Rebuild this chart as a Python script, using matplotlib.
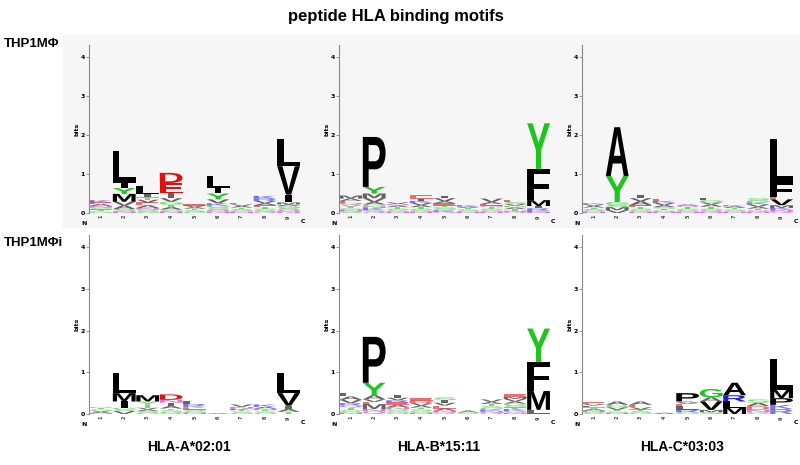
import matplotlib
matplotlib.use('Agg')
import matplotlib.pyplot as plt
from matplotlib.textpath import TextPath
from matplotlib.patches import PathPatch, Rectangle
from matplotlib.font_manager import FontProperties
from matplotlib.transforms import Affine2D

# sequence logos: letters listed bottom -> top for each position, heights in bits
alleles = ['HLA-A*02:01', 'HLA-B*15:11', 'HLA-C*03:03']
rows = ['THP1MΦ', 'THP1MΦi']
positions = [1, 2, 3, 4, 5, 6, 7, 8, 9]

a_top_letters = ['GTSNAEK', 'NSAVMYIL', 'GSNAEVTIL', 'NSATGVIED', 'GSTAVE',
                 'NQSGKVYIL', 'NGSTAVE', 'QGSTEAVRK', 'NQSGAMIVL']
a_top_heights = [[0.04, 0.05, 0.05, 0.04, 0.05, 0.04, 0.06],
                 [0.04, 0.06, 0.09, 0.1, 0.2, 0.15, 0.14, 0.82],
                 [0.04, 0.05, 0.04, 0.07, 0.07, 0.07, 0.06, 0.08, 0.22],
                 [0.04, 0.05, 0.06, 0.06, 0.08, 0.09, 0.12, 0.27, 0.26],
                 [0.03, 0.04, 0.04, 0.04, 0.04, 0.03],
                 [0.04, 0.05, 0.05, 0.05, 0.06, 0.1, 0.15, 0.15, 0.3],
                 [0.03, 0.03, 0.04, 0.04, 0.04, 0.04, 0.04],
                 [0.03, 0.04, 0.04, 0.04, 0.05, 0.05, 0.06, 0.06, 0.07],
                 [0.04, 0.04, 0.05, 0.05, 0.04, 0.05, 0.2, 0.73, 0.7]]

b_top_letters = ['SNGYQEAM', 'QSKNGAVMYP', 'NGSTAQV', 'NGSTAVKIE', 'QKSGTEAVI',
                 'NGSTAK', 'NGSTQEAV', 'QNTAGVSE', 'NKRIMFY']
b_top_heights = [[0.04, 0.04, 0.04, 0.09, 0.05, 0.05, 0.06, 0.08],
                 [0.03, 0.04, 0.06, 0.04, 0.05, 0.06, 0.1, 0.12, 0.17, 1.28],
                 [0.03, 0.04, 0.04, 0.04, 0.04, 0.04, 0.04],
                 [0.03, 0.04, 0.04, 0.04, 0.05, 0.06, 0.05, 0.06, 0.08],
                 [0.03, 0.04, 0.04, 0.04, 0.04, 0.06, 0.05, 0.08, 0.05],
                 [0.03, 0.03, 0.03, 0.04, 0.03, 0.04],
                 [0.03, 0.04, 0.04, 0.04, 0.04, 0.04, 0.05, 0.09],
                 [0.03, 0.03, 0.04, 0.04, 0.05, 0.04, 0.05, 0.05],
                 [0.03, 0.04, 0.05, 0.06, 0.15, 0.8, 1.17]]

c_top_letters = ['NGSTAVK', 'VMSGYA', 'NGSTEAVI', 'NGTSAVKE', 'NGSTQA',
                 'NQSTAVGL', 'NGSTAK', 'NQTAVKGS', 'QNKMVEFL']
c_top_heights = [[0.03, 0.03, 0.04, 0.04, 0.04, 0.04, 0.03],
                 [0.07, 0.08, 0.06, 0.07, 0.67, 1.25],
                 [0.03, 0.04, 0.04, 0.04, 0.05, 0.1, 0.08, 0.08],
                 [0.03, 0.04, 0.04, 0.04, 0.05, 0.06, 0.05, 0.06],
                 [0.03, 0.04, 0.04, 0.04, 0.04, 0.03],
                 [0.03, 0.04, 0.04, 0.05, 0.06, 0.05, 0.06, 0.05],
                 [0.03, 0.03, 0.03, 0.04, 0.04, 0.03],
                 [0.03, 0.04, 0.04, 0.05, 0.06, 0.05, 0.05, 0.06],
                 [0.04, 0.04, 0.05, 0.07, 0.15, 0.07, 0.35, 1.13]]

a_bot_letters = ['NAVSTG', 'VSGIML', 'GSAVTYM', 'QGSTAIND', 'NGSEKRL',
                 'A', 'GSTKNV', 'GSTNAK', 'TAIVL']
a_bot_heights = [[0.02, 0.03, 0.03, 0.03, 0.03, 0.03],
                 [0.07, 0.04, 0.04, 0.15, 0.2, 0.48],
                 [0.03, 0.04, 0.04, 0.04, 0.07, 0.08, 0.15],
                 [0.02, 0.03, 0.04, 0.04, 0.06, 0.08, 0.07, 0.13],
                 [0.03, 0.03, 0.04, 0.05, 0.04, 0.05, 0.06],
                 [0.02],
                 [0.03, 0.03, 0.03, 0.04, 0.04, 0.06],
                 [0.03, 0.03, 0.03, 0.04, 0.04, 0.06],
                 [0.05, 0.07, 0.08, 0.3, 0.48]]

b_bot_letters = ['NGSTQRVAL', 'QNMEVAYP', 'QGSNAERVI', 'NGSTAVDE', 'QNAEVIS',
                 'GSAT', 'QNKGSTAV', 'NQKTSGAVME', 'LMFY']
b_bot_heights = [[0.03, 0.03, 0.04, 0.05, 0.06, 0.05, 0.08, 0.08, 0.08],
                 [0.06, 0.06, 0.12, 0.05, 0.06, 0.1, 0.3, 1.1],
                 [0.03, 0.04, 0.04, 0.05, 0.06, 0.06, 0.05, 0.06, 0.06],
                 [0.03, 0.04, 0.04, 0.04, 0.05, 0.06, 0.06, 0.06],
                 [0.04, 0.04, 0.05, 0.07, 0.07, 0.06, 0.07],
                 [0.02, 0.02, 0.03, 0.03],
                 [0.03, 0.04, 0.04, 0.04, 0.04, 0.05, 0.05, 0.06],
                 [0.03, 0.04, 0.05, 0.04, 0.04, 0.05, 0.05, 0.06, 0.05, 0.06],
                 [0.1, 0.45, 0.7, 0.8]]

c_bot_letters = ['GSNATLVE', 'NSTVGA', 'GSTVEA', 'A', 'GRLEVAP',
                 'SMVAG', 'MLRA', 'GNDAS', 'RKPML']
c_bot_heights = [[0.02, 0.03, 0.03, 0.04, 0.04, 0.04, 0.04, 0.04],
                 [0.03, 0.03, 0.04, 0.06, 0.06, 0.08],
                 [0.03, 0.04, 0.04, 0.05, 0.06, 0.08],
                 [0.03],
                 [0.04, 0.06, 0.08, 0.06, 0.03, 0.03, 0.2],
                 [0.04, 0.06, 0.2, 0.1, 0.2],
                 [0.15, 0.15, 0.15, 0.3],
                 [0.04, 0.06, 0.09, 0.08, 0.08],
                 [0.12, 0.1, 0.16, 0.2, 0.74]]

panels = [[(a_top_letters, a_top_heights), (b_top_letters, b_top_heights), (c_top_letters, c_top_heights)],
          [(a_bot_letters, a_bot_heights), (b_bot_letters, b_bot_heights), (c_bot_letters, c_bot_heights)]]

colors = {}
for aa in 'GSTYC':
    colors[aa] = '#1fc41f'
for aa in 'NQ':
    colors[aa] = '#c020c0'
for aa in 'KRH':
    colors[aa] = '#1c1cd8'
for aa in 'DE':
    colors[aa] = '#e01010'
for aa in 'AVLIPWFM':
    colors[aa] = '#000000'

fp = FontProperties(family='Liberation Sans', weight='bold')


def draw_letter(ax, ch, x, y0, h, w=0.97):
    if ch == 'I':
        w = 0.28  # keep the bar narrow instead of a full-width block
    path = TextPath((0, 0), ch, size=1, prop=fp)
    bb = path.get_extents()
    tr = (Affine2D().translate(-bb.x0, -bb.y0)
          .scale(w / bb.width, h / bb.height)
          .translate(x - w / 2, y0))
    alpha = 1.0 if h > 0.12 else 0.6
    ax.add_patch(PathPatch(tr.transform_path(path), facecolor=colors[ch],
                           edgecolor='none', alpha=alpha))


fig = plt.figure(figsize=(8, 4.65), dpi=100)
W, H = 800, 465
# light grey band behind the upper row
fig.patches.append(Rectangle((63 / W, (H - 228) / H), (W - 63) / W, (228 - 35) / H,
                             transform=fig.transFigure, facecolor='#f6f6f6',
                             edgecolor='none', zorder=-5))

lefts = [89, 339, 582]
row_zero = [213, 414]
row_scale = [39.0, 41.7]

for r in range(2):
    for c in range(3):
        letters, heights = panels[r][c]
        ax_h = 4.3 * row_scale[r]
        ax = fig.add_axes([lefts[c] / W, (H - row_zero[r]) / H, 216 / W, ax_h / H])
        ax.set_zorder(2)
        ax.set_facecolor('none')
        for i, p in enumerate(positions):
            y = 0.0
            for ch, h in zip(letters[i], heights[i]):
                draw_letter(ax, ch, p, y, h)
                y += h
        ax.set_xlim(0.5, 9.7)
        ax.set_ylim(0, 4.3)
        for s in ['top', 'right', 'bottom']:
            ax.spines[s].set_visible(False)
        ax.spines['left'].set_color('#888888')
        ax.spines['left'].set_linewidth(0.8)
        ax.set_yticks([0, 1, 2, 3, 4])
        ax.set_yticklabels(['0', '1', '2', '3', '4'], fontsize=4.5, fontweight='bold')
        ax.tick_params(axis='y', length=2, width=0.6, color='#888888', pad=1)
        ax.set_xticks(positions)
        ax.set_xticklabels([str(p) for p in positions], rotation=90, fontsize=3.5,
                           fontweight='bold', color='#444444')
        ax.tick_params(axis='x', length=0, pad=1.5)
        ax.set_ylabel('bits', fontsize=4.5, fontweight='bold', labelpad=1)
        ax.text(0.3, -0.2, 'N', fontsize=4.5, fontweight='bold', ha='center', va='top')
        ax.text(9.62, -0.15, 'C', fontsize=4.5, fontweight='bold', ha='center', va='top',
                clip_on=False)

fig.text(396 / W, 1 - 17 / H, 'peptide HLA binding motifs', ha='center', va='center',
         fontsize=12, fontweight='bold', family='Liberation Sans')
fig.text(4 / W, 1 - 44 / H, rows[0], ha='left', va='center', fontsize=9.5,
         fontweight='bold', family='Liberation Sans')
fig.text(4 / W, 1 - 243 / H, rows[1], ha='left', va='center', fontsize=9.5,
         fontweight='bold', family='Liberation Sans')
for c in range(3):
    fig.text((lefts[c] + 100) / W, 1 - 447 / H, alleles[c], ha='center', va='center',
             fontsize=10, fontweight='bold', family='Liberation Sans')

fig.savefig('out.png', dpi=100)
